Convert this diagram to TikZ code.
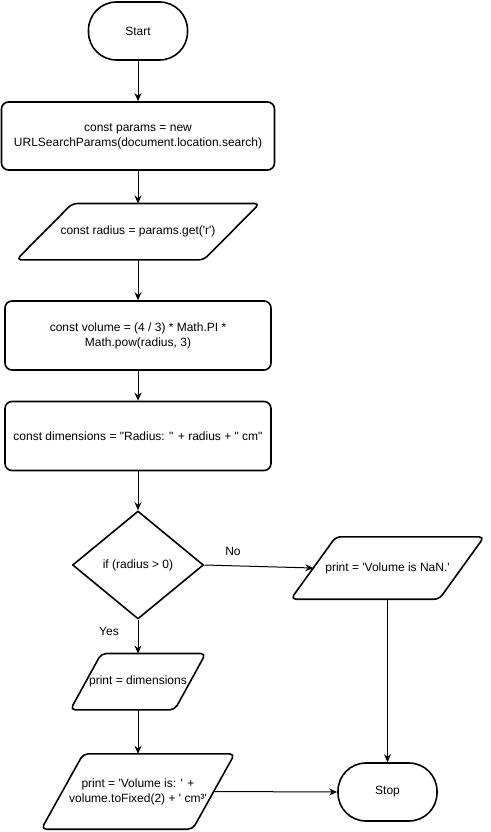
\documentclass[tikz,border=0pt]{standalone}
\usepackage{fontspec}
\setmainfont{Liberation Sans}
\usetikzlibrary{shapes.geometric,arrows.meta}

% straight quotes in code text
\newcommand{\qs}{\textquotesingle}
\newcommand{\qd}{\textquotedbl}

% parallelogram (input/output) node: name, x, y, body width, height, half skew, text
\newcommand{\ionode}[7]{%
  \node[iobody, minimum width=#4, minimum height=#5] (#1) at (#2,#3) {#7};
  \draw[outline, rounded corners=5pt]
    ([xshift=#6]#1.north west) -- ([xshift=#6]#1.north east)
    -- ([xshift=-#6]#1.south east) -- ([xshift=-#6]#1.south west) -- cycle;
}

\begin{document}
\begin{tikzpicture}[x=1pt, y=-1pt,
  every node/.style={font=\fontsize{12}{15}\selectfont, align=center, inner sep=0pt, text=black},
  outline/.style={draw=black, line width=1.6pt, line join=round},
  term/.style={outline, rectangle, rounded corners=28pt, minimum width=99pt, minimum height=58pt},
  process/.style={outline, rectangle, rounded corners=7pt},
  iobody/.style={rectangle},
  decision/.style={outline, diamond, minimum width=131pt, minimum height=108pt},
  conn/.style={draw=black, line width=1pt, -{Stealth[length=8pt, width=7pt]}},
  edgelabel/.style={font=\fontsize{12}{15}\selectfont}
]
\useasboundingbox (0,0) rectangle (490,832);

% main column
\node[term] (start) at (138,31) {Start};
\node[process, minimum width=273pt, minimum height=68pt] (params) at (138,136)
  {const params = new\\URLSearchParams(document.location.search)};
\ionode{radius}{138}{231.7}{187pt}{56pt}{28pt}{const radius = params.get(\qs{}r\qs{})}
\node[process, minimum width=266pt, minimum height=69pt] (volume) at (138,335.5)
  {const volume = (4 / 3) * Math.PI *\\Math.pow(radius, 3)};
\node[process, minimum width=266pt, minimum height=69pt] (dims) at (138,436)
  {const dimensions = \qd{}Radius: \qd{} + radius + \qd{} cm\qd{}};
\node[decision] (check) at (138,565) {if (radius \textgreater{} 0)};
\ionode{printdims}{138}{681.7}{104pt}{56pt}{15.5pt}{print = dimensions}
\ionode{printvol}{138}{791.5}{151pt}{75pt}{21pt}{print = \qs{}Volume is: \qs{} +\\volume.toFixed(2) + \qs{} cm³\qs{}}

% right column
\ionode{printnan}{387.5}{568}{148pt}{62pt}{22.5pt}{print = \qs{}Volume is NaN.\qs{}}
\node[term] (stop) at (387.5,792) {Stop};

% connectors
\draw[conn] (start) -- (params);
\draw[conn] (params) -- (radius);
\draw[conn] (radius) -- (volume);
\draw[conn] (volume) -- (dims);
\draw[conn] (dims) -- (check);
\draw[conn] (check.south) -- (printdims.north);
\draw[conn] (printdims) -- (printvol);
\draw[conn] (check.east) -- (printnan.west);
\draw[conn] (printnan.south) -- (stop.north);
\draw[conn] (printvol.east) -- (stop.west);

% branch labels
\node[edgelabel] (yes) at (109,631) {Yes};
\node[edgelabel] (no) at (233,551) {No};
\end{tikzpicture}
\end{document}
